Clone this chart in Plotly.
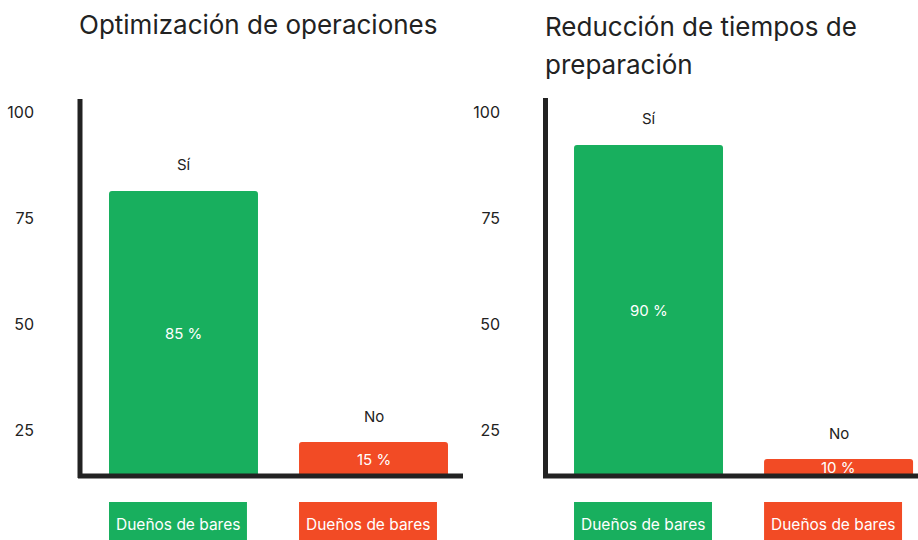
import plotly.graph_objects as go

# ---- data ----
answers = ["Sí", "No"]
group_label = "Dueños de bares"
ops_title = "Optimización de operaciones"
prep_title_lines = ["Reducción de tiempos de", "preparación"]
ops_values = [85, 15]
prep_values = [90, 10]
tick_values = [25, 50, 75, 100]

# ---- style ----
W, H = 918, 540
GREEN = "#18AF5E"
ORANGE = "#F24B25"
INK = "#222222"
FONT = "Inter"
bar_colors = [GREEN, ORANGE]


def px_x(p):
    return p / W


def px_y(p):
    return 1 - p / H


y_dom = [px_y(476), px_y(98)]
left_floor, left_top = 5.52, 110.93
right_floor, right_top = 5.67, 101.97
tick_range = [14.3, 103.5]
bar_w = 0.784

fig = go.Figure()

panels = [
    dict(x="x", y="y", yt="y3", vals=ops_values, floor=left_floor),
    dict(x="x2", y="y2", yt="y4", vals=prep_values, floor=right_floor),
]

annotations = []
shapes = []
for p in panels:
    fig.add_trace(go.Bar(
        x=answers, y=p["vals"], xaxis=p["x"], yaxis=p["y"],
        marker=dict(color=bar_colors, line=dict(width=0)),
        width=bar_w, showlegend=False, textposition="none",
        hovertemplate="%{x}: %{y} %<extra></extra>",
    ))
    fig.add_trace(go.Scatter(x=[], y=[], xaxis=p["x"], yaxis=p["yt"],
                             showlegend=False, hoverinfo="skip"))
    for i, (a, v) in enumerate(zip(answers, p["vals"])):
        # answer label above bar
        annotations.append(dict(
            x=a, y=v, xref=p["x"], yref=p["y"], text=a, showarrow=False,
            yanchor="middle", yshift=26,
            font=dict(family=FONT, size=15, color=INK)))
        # percentage inside bar
        annotations.append(dict(
            x=a, y=(p["floor"] + v) / 2, xref=p["x"], yref=p["y"],
            text=f"{v} %", showarrow=False, yanchor="middle",
            font=dict(family=FONT, size=15, color="white")))
        # category box below
        shapes.append(dict(
            type="rect", xref=p["x"], yref="paper",
            x0=i - 0.392, x1=i + 0.334, y0=px_y(548), y1=px_y(502),
            fillcolor=bar_colors[i], line=dict(width=0), layer="below"))
        annotations.append(dict(
            x=a, y=px_y(524), xref=p["x"], yref="paper", xshift=-5.5,
            text=group_label, showarrow=False, yanchor="middle",
            font=dict(family=FONT, size=15.5, color="white")))

# titles
title_font = dict(family=FONT, size=26, color=INK)
annotations.append(dict(x=px_x(77), y=px_y(25), xref="paper", yref="paper",
                        text=ops_title, showarrow=False, xanchor="left",
                        yanchor="middle", font=title_font))
annotations.append(dict(x=px_x(543), y=px_y(26), xref="paper", yref="paper",
                        text=prep_title_lines[0], showarrow=False, xanchor="left",
                        yanchor="middle", font=title_font))
annotations.append(dict(x=px_x(543), y=px_y(65), xref="paper", yref="paper",
                        text=prep_title_lines[1], showarrow=False, xanchor="left",
                        yanchor="middle", font=title_font))

# thick axis lines
line = dict(color=INK, width=5)
for x0, y0, x1, y1 in [(80, 99, 80, 478), (78, 476, 463, 476),
                       (545.5, 98, 545.5, 478), (543, 476, 918, 476)]:
    shapes.append(dict(type="line", xref="paper", yref="paper",
                       x0=px_x(x0), y0=px_y(y0), x1=px_x(x1), y1=px_y(y1),
                       line=line, layer="above"))

hidden_x = dict(showticklabels=False, showgrid=False, zeroline=False,
                showline=False, ticks="", fixedrange=True)
hidden_y = dict(showticklabels=False, showgrid=False, zeroline=False,
                showline=False, ticks="", domain=y_dom, fixedrange=True)
tick_axis = dict(range=tick_range, tickvals=tick_values, showgrid=False,
                 zeroline=False, showline=False, ticks="", anchor="free",
                 side="left", automargin=False,
                 tickfont=dict(family=FONT, size=16, color=INK))

fig.update_layout(
    width=W, height=H,
    margin=dict(l=0, r=0, t=0, b=0),
    paper_bgcolor="white", plot_bgcolor="white",
    barcornerradius=3,
    xaxis=dict(domain=[px_x(80), px_x(463)], range=[-0.5447, 1.471], **hidden_x),
    xaxis2=dict(domain=[px_x(545), px_x(918)], range=[-0.5447, 1.418], **hidden_x),
    yaxis=dict(range=[left_floor, left_top], anchor="x", **hidden_y),
    yaxis2=dict(range=[right_floor, right_top], anchor="x2", **hidden_y),
    yaxis3=dict(overlaying="y", position=px_x(34), **tick_axis),
    yaxis4=dict(overlaying="y2", position=px_x(500), **tick_axis),
    annotations=annotations,
    shapes=shapes,
    font=dict(family=FONT, color=INK),
)

fig.write_html("out.html",
               config={"displayModeBar": False},
               post_script="document.body.style.margin='0';"
                           "document.body.style.overflow='hidden';")
